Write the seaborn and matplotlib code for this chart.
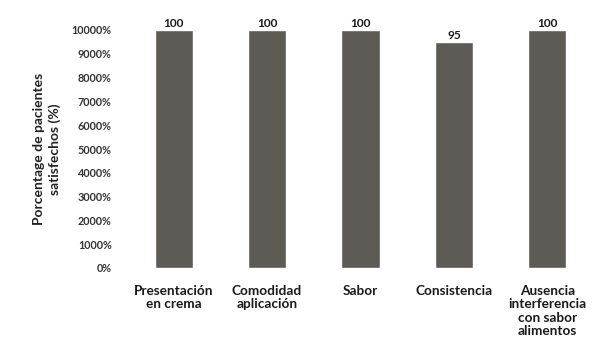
import matplotlib
matplotlib.use("Agg")
import matplotlib.pyplot as plt
import seaborn as sns
import pandas as pd
from matplotlib.ticker import FuncFormatter

categories = ["Presentación\nen crema", "Comodidad\naplicación", "Sabor",
              "Consistencia", "Ausencia\ninterferencia\ncon sabor\nalimentos"]
values = [100, 100, 100, 95, 100]
y_ticks = [0, 10, 20, 30, 40, 50, 60, 70, 80, 90, 100]

df = pd.DataFrame({"cat": categories, "val": values})

sns.set_theme(style="white")
plt.rcParams["font.family"] = ["Lato", "DejaVu Sans"]

fig = plt.figure(figsize=(6.07, 3.56), dpi=100)
ax = fig.add_axes([127 / 607, 1 - 268 / 356, (594 - 127) / 607, (268 - 30) / 356])

sns.barplot(data=df, x="cat", y="val", color="#5e5b57", saturation=1,
            width=0.41, ax=ax)

ax.set_ylim(0, 100)
ax.set_yticks(y_ticks)
ax.yaxis.set_major_formatter(FuncFormatter(lambda v, p: f"{int(round(v * 100))}%"))
ax.tick_params(axis="y", labelsize=7.8, colors="#333333", pad=11, length=0)
ax.tick_params(axis="x", labelsize=9.8, pad=12, length=0)
for lbl in ax.get_xticklabels():
    lbl.set_fontweight("bold")
    lbl.set_color("#1a1a1a")
    lbl.set_linespacing(1.15)
for lbl in ax.get_yticklabels():
    lbl.set_fontweight("bold")

for s in ax.spines.values():
    s.set_visible(False)

for c in ax.containers:
    ax.bar_label(c, labels=[f"{v:g}" for v in values], fontsize=8.5,
                 fontweight="bold", color="#1a1a1a", padding=1)

ax.set_xlabel("")
ax.set_ylabel("Porcentage de pacientes\nsatisfechos (%)", fontsize=10,
              fontweight="bold", color="#222222", labelpad=8, linespacing=1.3)

fig.savefig("out.png", dpi=100, facecolor="white")
